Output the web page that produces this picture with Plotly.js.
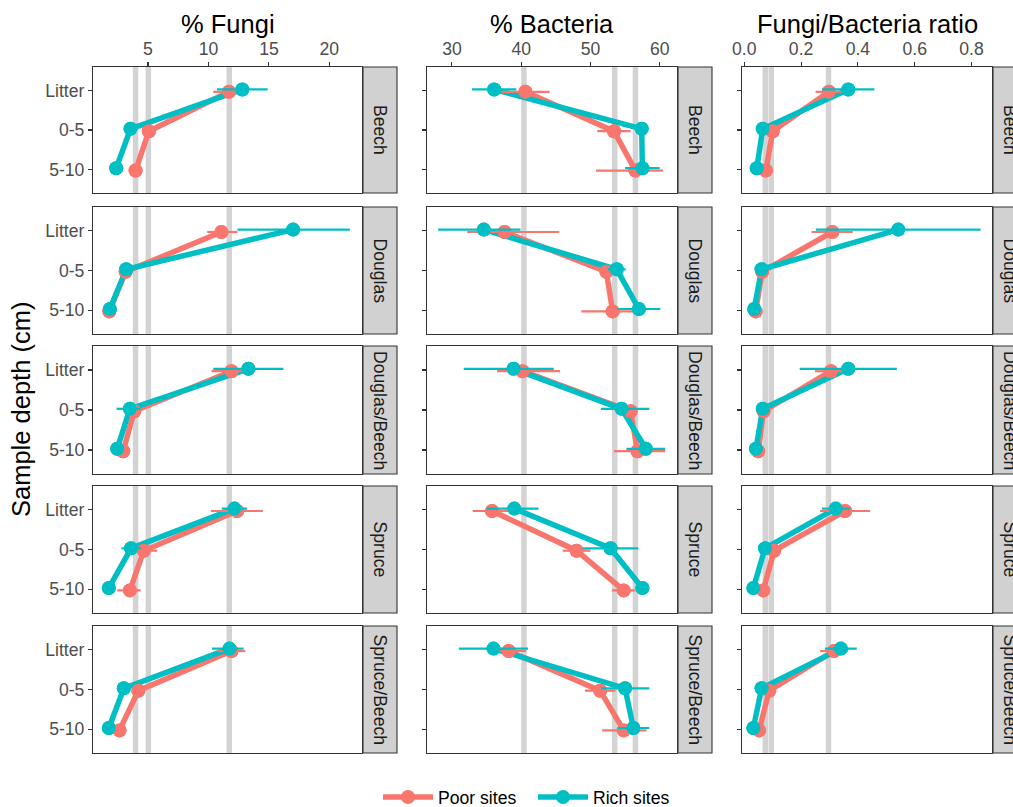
<!DOCTYPE html>
<html>
<head>
<meta charset="utf-8">
<script src="https://cdn.plot.ly/plotly-3.0.1.min.js"></script>
<style>html,body{margin:0;padding:0;background:#fff;}#chart{width:1013px;height:807px;}</style>
</head>
<body>
<div id="chart"></div>
<script>
// ---------- categories ----------
const forests = ['Beech', 'Douglas', 'Douglas/Beech', 'Spruce', 'Spruce/Beech'];
const depths = ['Litter', '0-5', '5-10'];
const metrics = ['% Fungi', '% Bacteria', 'Fungi/Bacteria ratio'];
const sites = ['Poor sites', 'Rich sites'];

// ---------- % Fungi (rows: forests, cols: depths) ----------
const fungiPoorMean = [[11.7, 5.07, 3.97], [11.07, 3.15, 1.8], [11.9, 3.85, 2.95], [12.37, 4.65, 3.5], [11.9, 4.2, 2.64]];
const fungiPoorLo   = [[10.4, 4.8, 3.7], [9.9, 2.9, 1.6], [10.25, 3.5, 2.7], [10.2, 3.55, 2.45], [10.75, 3.9, 2.4]];
const fungiPoorHi   = [[13.0, 5.35, 4.25], [12.4, 3.4, 2.0], [13.55, 4.2, 3.2], [14.5, 5.76, 4.4], [13.05, 4.5, 2.9]];
const fungiRichMean = [[12.8, 3.55, 2.37], [17.0, 3.2, 1.84], [13.3, 3.5, 2.45], [12.15, 3.6, 1.76], [11.74, 3.0, 1.76]];
const fungiRichLo   = [[10.7, 3.3, 2.1], [12.4, 2.9, 1.6], [10.4, 2.4, 2.2], [11.1, 2.8, 1.5], [10.3, 2.7, 1.5]];
const fungiRichHi   = [[14.9, 3.8, 2.6], [21.7, 3.5, 2.1], [16.2, 4.4, 2.7], [13.2, 4.4, 2.0], [12.9, 3.3, 2.0]];

// ---------- % Bacteria ----------
const bactPoorMean = [[40.6, 53.4, 56.5], [37.6, 52.3, 53.2], [40.2, 55.8, 56.8], [35.8, 48.0, 54.8], [38.2, 51.4, 54.8]];
const bactPoorLo   = [[37.1, 51.0, 50.8], [32.2, 51.5, 48.7], [36.5, 54.8, 53.4], [33.0, 46.0, 53.1], [35.7, 49.2, 51.7]];
const bactPoorHi   = [[44.1, 55.8, 60.5], [45.5, 53.1, 57.7], [45.6, 56.8, 60.8], [38.6, 50.0, 56.5], [40.7, 53.6, 58.1]];
const bactRichMean = [[36.1, 57.4, 57.5], [34.6, 53.8, 57.0], [38.9, 54.5, 58.0], [39.0, 52.9, 57.5], [36.0, 55.0, 56.2]];
const bactRichLo   = [[32.9, 56.5, 55.0], [28.0, 52.5, 53.9], [31.7, 51.5, 55.2], [35.0, 48.9, 56.5], [31.0, 51.5, 53.9]];
const bactRichHi   = [[39.3, 58.3, 60.0], [39.9, 55.1, 60.1], [44.7, 58.5, 60.8], [42.5, 56.9, 58.5], [41.0, 58.5, 58.5]];

// ---------- Fungi/Bacteria ratio ----------
const ratioPoorMean = [[0.298, 0.100, 0.076], [0.31, 0.063, 0.04], [0.305, 0.068, 0.049], [0.355, 0.105, 0.067], [0.316, 0.088, 0.052]];
const ratioPoorLo   = [[0.251, 0.09, 0.068], [0.237, 0.055, 0.035], [0.249, 0.06, 0.043], [0.267, 0.095, 0.06], [0.267, 0.08, 0.046]];
const ratioPoorHi   = [[0.345, 0.11, 0.084], [0.382, 0.071, 0.045], [0.36, 0.076, 0.055], [0.443, 0.115, 0.074], [0.365, 0.096, 0.058]];
const ratioRichMean = [[0.366, 0.065, 0.044], [0.542, 0.061, 0.035], [0.366, 0.065, 0.041], [0.322, 0.073, 0.032], [0.34, 0.061, 0.032]];
const ratioRichLo   = [[0.274, 0.058, 0.038], [0.252, 0.054, 0.03], [0.195, 0.058, 0.036], [0.273, 0.065, 0.027], [0.284, 0.055, 0.027]];
const ratioRichHi   = [[0.458, 0.072, 0.05], [0.832, 0.068, 0.04], [0.537, 0.072, 0.046], [0.371, 0.081, 0.037], [0.396, 0.067, 0.037]];

// ---------- reference lines ----------
const fungiRef = [3.97, 5.03, 11.72];
const bactRef = [40.4, 53.5, 56.5];
const ratioRef = [0.074, 0.095, 0.2965];

// ---------- axis ticks ----------
const fungiTicks = [5, 10, 15, 20];
const bactTicks = [30, 40, 50, 60];
const ratioTicks = [0, 0.2, 0.4, 0.6, 0.8];
const ratioTickText = ['0.0', '0.2', '0.4', '0.6', '0.8'];

// ---------- assembly ----------
const W = 1013, H = 807;
const colPx = [[93, 362], [427, 677], [742, 992]];
const rowPx = [[67, 193], [207, 334], [346, 474], [486, 613], [626, 753]];
const colRange = [[0.45, 22.7], [26.4, 62.5], [-0.008, 0.872]];
const colTicks = [fungiTicks, bactTicks, ratioTicks];
const colTickText = [fungiTicks.map(String), bactTicks.map(String), ratioTickText];
const colRefs = [fungiRef, bactRef, ratioRef];
const dataSets = [
  [[fungiPoorMean, fungiPoorLo, fungiPoorHi], [fungiRichMean, fungiRichLo, fungiRichHi]],
  [[bactPoorMean, bactPoorLo, bactPoorHi], [bactRichMean, bactRichLo, bactRichHi]],
  [[ratioPoorMean, ratioPoorLo, ratioPoorHi], [ratioRichMean, ratioRichLo, ratioRichHi]]
];
const colors = ['#F8766D', '#00BFC4'];
const dodge = [-0.03, 0.03];
const depthLevel = depths.map((d, i) => depths.length - i); // Litter=3, 0-5=2, 5-10=1
const FONT = 'Liberation Sans, Arial, Helvetica, sans-serif';

const layout = {
  width: W, height: H,
  margin: {l: 0, r: 0, t: 0, b: 0, pad: 0, autoexpand: false},
  paper_bgcolor: '#ffffff', plot_bgcolor: '#ffffff',
  font: {family: FONT, color: '#000000'},
  showlegend: true,
  legend: {orientation: 'h', x: 378 / W, xanchor: 'left', y: 1 - 797 / H, yanchor: 'middle',
           font: {size: 17.6, color: '#000000'}, itemwidth: 50,
           entrywidth: 90, entrywidthmode: 'pixels', tracegroupgap: 0},
  shapes: [], annotations: []
};
const lineTraces = [], markTraces = [];

forests.forEach((forest, r) => {
  metrics.forEach((metric, c) => {
    const k = r * 3 + c + 1;
    const xa = 'xaxis' + (k === 1 ? '' : k), ya = 'yaxis' + (k === 1 ? '' : k);
    const xr = 'x' + (k === 1 ? '' : k), yr = 'y' + (k === 1 ? '' : k);
    const yDom = [1 - rowPx[r][1] / H, 1 - rowPx[r][0] / H];
    layout[xa] = {
      domain: [colPx[c][0] / W, colPx[c][1] / W], anchor: yr, range: colRange[c],
      side: 'top', showline: true, mirror: true, linecolor: '#333333', linewidth: 1.1,
      showgrid: false, zeroline: false,
      tickmode: 'array', tickvals: colTicks[c], ticktext: colTickText[c],
      ticks: r === 0 ? 'outside' : '', ticklen: 4, tickcolor: '#333333', tickwidth: 1.1,
      showticklabels: r === 0, tickfont: {size: 17.6, color: '#4d4d4d', family: FONT}
    };
    layout[ya] = {
      domain: yDom, anchor: xr, range: [0.4, 3.6],
      showline: true, mirror: true, linecolor: '#333333', linewidth: 1.1,
      showgrid: false, zeroline: false,
      tickmode: 'array', tickvals: depthLevel, ticktext: depths,
      ticks: 'outside', ticklen: 4, tickcolor: '#333333', tickwidth: 1.1,
      showticklabels: c === 0, tickfont: {size: 17.6, color: '#4d4d4d', family: FONT}
    };
    // reference lines
    colRefs[c].forEach(v => {
      layout.shapes.push({type: 'line', xref: xr, yref: 'paper', x0: v, x1: v, y0: yDom[0], y1: yDom[1],
        line: {color: '#d3d3d3', width: 5.5}, layer: 'below'});
    });
    // strip
    const sx0 = (colPx[c][1] + 1) / W, sx1 = (colPx[c][1] + 35) / W;
    layout.shapes.push({type: 'rect', xref: 'paper', yref: 'paper', x0: sx0, x1: sx1, y0: yDom[0], y1: yDom[1],
      fillcolor: '#d1d1d1', line: {color: '#333333', width: 1.1}, layer: 'above'});
    layout.annotations.push({xref: 'paper', yref: 'paper', x: (colPx[c][1] + 18) / W, y: (yDom[0] + yDom[1]) / 2,
      text: forest, showarrow: false, textangle: 90, xanchor: 'center', yanchor: 'middle',
      font: {size: 17.6, color: '#1a1a1a', family: FONT}});
    // series
    sites.forEach((site, s) => {
      const [mean, lo, hi] = dataSets[c][s];
      const xs = mean[r];
      const ys = depthLevel.map(l => l + dodge[s]);
      lineTraces.push({
        type: 'scatter', mode: 'lines+markers', x: xs, y: ys, xaxis: xr, yaxis: yr,
        name: site, legendgroup: site, showlegend: k === 1,
        line: {color: colors[s], width: 5.5}, marker: {color: colors[s], size: 14},
        hoverinfo: 'skip'
      });
      markTraces.push({
        type: 'scatter', mode: 'markers', x: xs, y: ys, xaxis: xr, yaxis: yr,
        name: site, legendgroup: site, showlegend: false,
        marker: {color: colors[s], size: 14},
        error_x: {type: 'data', symmetric: false,
          array: xs.map((v, i) => hi[r][i] - v), arrayminus: xs.map((v, i) => v - lo[r][i]),
          color: colors[s], thickness: 2.2, width: 0}
      });
    });
  });
});

// column titles
metrics.forEach((m, c) => {
  layout.annotations.push({xref: 'paper', yref: 'paper', x: (colPx[c][0] + colPx[c][1]) / 2 / W, y: 1 - 24 / H,
    text: m, showarrow: false, xanchor: 'center', yanchor: 'middle', font: {size: 25.5, color: '#000000', family: FONT}});
});
// y axis title
layout.annotations.push({xref: 'paper', yref: 'paper', x: 21 / W, y: 1 - 410 / H, text: 'Sample depth (cm)',
  showarrow: false, textangle: -90, xanchor: 'center', yanchor: 'middle', font: {size: 25.5, color: '#000000', family: FONT}});

Plotly.newPlot('chart', lineTraces.concat(markTraces), layout, {displayModeBar: false, staticPlot: true});
</script>
</body>
</html>
